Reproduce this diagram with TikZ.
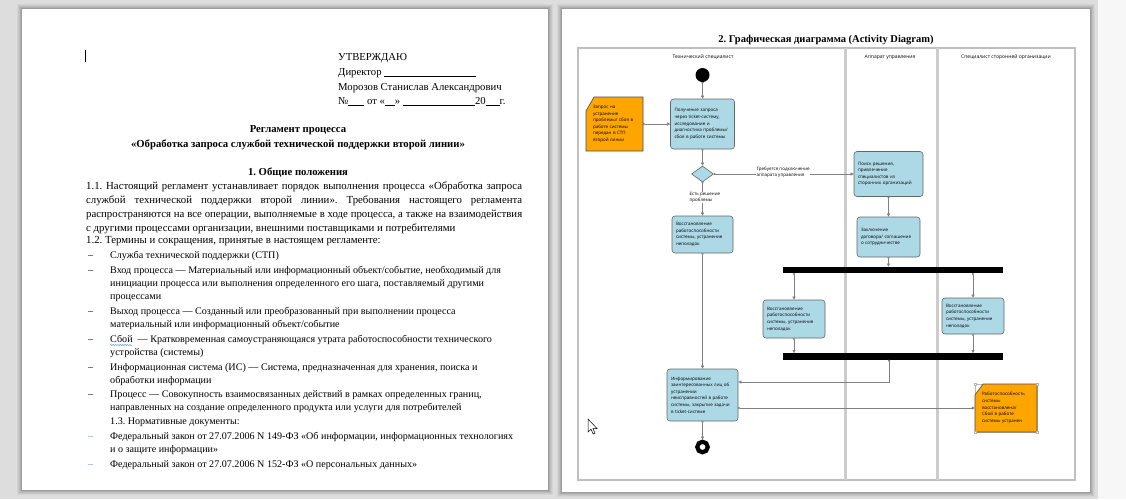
\documentclass[tikz,border=0pt]{standalone}
\usepackage{fontspec}
\setmainfont{Liberation Serif}
\newfontfamily\diagfont{Open Sans}
\usetikzlibrary{arrows.meta,shapes.geometric,decorations.pathmorphing}

\definecolor{deskgray}{RGB}{221,221,221}
\definecolor{actblue}{RGB}{173,216,230}
\definecolor{noteorange}{RGB}{255,165,0}
\definecolor{flowgray}{RGB}{128,128,128}
\definecolor{dashblue}{RGB}{91,155,213}

\newcommand{\justline}[1]{\makebox[436pt][s]{#1}}
\newcommand{\signline}[1]{\rule[-1.2pt]{#1pt}{0.5pt}}
\frenchspacing

\tikzset{
	body/.style={anchor=base west, inner sep=0pt, font=\fontsize{10.1}{12}\selectfont},
	bodywide/.style={anchor=base west, inner sep=0pt, font=\fontsize{10.8}{12}\selectfont},
	bodyhead/.style={anchor=base west, inner sep=0pt, font=\fontsize{10.7}{12}\selectfont},
	bodybold/.style={anchor=base, inner sep=0pt, font=\fontsize{10.7}{12}\selectfont\bfseries},
	lanehead/.style={inner sep=0pt, font=\diagfont\fontsize{5}{6}\selectfont},
	action/.style={draw=gray!80!black, line width=0.6pt, fill=actblue, rounded corners=3pt,
		align=left, inner xsep=4pt, inner ysep=0pt, font=\diagfont\fontsize{4.5}{6.6}\selectfont},
	notetext/.style={align=left, inner xsep=7pt, inner ysep=0pt, font=\diagfont\fontsize{4.5}{6.6}\selectfont},
	noteshape/.style={fill=noteorange, draw=gray!60!black, line width=0.6pt},
	decision/.style={diamond, draw=gray!80!black, line width=0.6pt, fill=actblue,
		minimum width=22pt, minimum height=16pt, inner sep=0pt},
	syncbar/.style={fill=black, inner sep=0pt, minimum width=220pt, minimum height=6.5pt},
	flow/.style={draw=flowgray, line width=0.5pt,
		{Triangle[reversed,width=2.4pt,length=2pt]}-{Triangle[width=3pt,length=3pt]}},
	flowlabel/.style={fill=white, inner sep=0.4pt, align=left, anchor=west,
		font=\diagfont\fontsize{4.5}{6.6}\selectfont}
}

\begin{document}
\frenchspacing
\begin{tikzpicture}[x=1pt,y=-1pt]
	\useasboundingbox (0,0) rectangle (1126,499);
	% desk and the two pages
	\fill[deskgray] (0,0) rectangle (1126,499);
	\fill[gray!6] (1098,0) rectangle (1126,499);
	\foreach \s/\o in {5/0.04,4/0.05,3/0.06,2/0.08,1/0.10}{
		\fill[black,opacity=\o] (22-\s,9-\s) rectangle (548+\s,490+\s);
		\fill[black,opacity=\o] (562-\s,9-\s) rectangle (1090+\s,492+\s);
	}
	\fill[white] (22,9) rectangle (548,490);
	\fill[white] (562,9) rectangle (1090,492);

	% left page
	\draw[line width=0.6pt] (85.5,50) -- (85.5,62);
	\node[bodyhead] (appr) at (338,60) {УТВЕРЖДАЮ};
	\node[bodyhead] (dir) at (338,75) {Директор \signline{92}};
	\node[bodyhead] (name) at (338,90) {Морозов Станислав Александрович};
	\node[bodyhead] (num) at (338,104) {№\signline{16} от «\signline{10}» \signline{72}20\signline{14}г.};
	\node[bodybold] (ttl1) at (298,132) {Регламент процесса};
	\node[bodybold] (ttl2) at (298,147) {«Обработка запроса службой технической поддержки второй линии»};
	\node[bodybold] (sec1) at (298,175) {1. Общие положения};
	\node[bodywide] (p11a) at (86,189) {\justline{1.1. Настоящий регламент устанавливает порядок выполнения процесса «Обработка запроса}};
	\node[bodywide] (p11b) at (86,203) {\justline{службой технической поддержки второй линии». Требования настоящего регламента}};
	\node[bodywide] (p11c) at (86,217) {\justline{распространяются на все операции, выполняемые в ходе процесса, а также на взаимодействия}};
	\node[bodywide] (p11d) at (86,231) {с другими процессами организации, внешними поставщиками и потребителями};
	\node[bodywide] (p12) at (86,243) {1.2. Термины и сокращения, принятые в настоящем регламенте:};
	\node[body] (d1) at (88,258) {–};
	\node[body] (t1) at (110,258) {Служба технической поддержки (СТП)};
	\node[body] (d2) at (88,273) {–};
	\node[body] (t2a) at (110,273) {Вход процесса — Материальный или информационный объект/событие, необходимый для};
	\node[body] (t2b) at (110,286) {инициации процесса или выполнения определенного его шага, поставляемый другими};
	\node[body] (t2c) at (110,299) {процессами};
	\node[body] (d3) at (88,314) {–};
	\node[body] (t3a) at (110,314) {Выход процесса — Созданный или преобразованный при выполнении процесса};
	\node[body] (t3b) at (110,327) {материальный или информационный объект/событие};
	\node[body] (d4) at (88,342) {–};
	\node[body] (t4a) at (110,342) {Сбой\ \ — Кратковременная самоустраняющаяся утрата работоспособности технического};
	\node[body] (t4b) at (110,355) {устройства (системы)};
	\draw[dashblue, line width=0.5pt, decorate, decoration={snake, amplitude=0.6pt, segment length=2.4pt}] (110,345) -- (132,345);
	\node[body] (d5) at (88,370) {–};
	\node[body] (t5a) at (110,370) {Информационная система (ИС) — Система, предназначенная для хранения, поиска и};
	\node[body] (t5b) at (110,383) {обработки информации};
	\node[body] (d6) at (88,397) {–};
	\node[body] (t6a) at (110,397) {Процесс — Совокупность взаимосвязанных действий в рамках определенных границ,};
	\node[body] (t6b) at (110,410) {направленных на создание определенного продукта или услуги для потребителей};
	\node[body] (p13) at (110,424) {1.3. Нормативные документы:};
	\node[body, text=dashblue] (d7) at (88,439) {–};
	\node[body] (t7a) at (110,439) {Федеральный закон от 27.07.2006 N 149-ФЗ «Об информации, информационных технологиях};
	\node[body] (t7b) at (110,452) {и о защите информации»};
	\node[body, text=dashblue] (d8) at (88,467) {–};
	\node[body] (t8) at (110,467) {Федеральный закон от 27.07.2006 N 152-ФЗ «О персональных данных»};

	% right page: swimlanes
	\node[font=\fontsize{10.5}{12}\selectfont\bfseries, inner sep=0pt] (dtitle) at (826,40) {2. Графическая диаграмма (Activity Diagram)};
	\draw[gray!50, line width=1.6pt] (578,48) rectangle (1075,480);
	\draw[gray!40, line width=3pt] (845,48) -- (845,480);
	\draw[gray!40, line width=3pt] (937,48) -- (937,480);
	\node[lanehead] (lane1) at (703,57) {Технический специалист};
	\node[lanehead] (lane2) at (890,57) {Аппарат управления};
	\node[lanehead] (lane3) at (1006,57) {Специалист сторонней организации};

	% nodes
	\node[circle, fill=black, minimum size=14pt, inner sep=0pt] (start) at (702.5,75) {};
	\node[action, text width=56pt, minimum height=50pt] (get) at (702.5,124)
		{Получение запроса\\через ticket-систему,\\исследование и\\диагностика проблемы/\\сбоя в работе системы};
	\filldraw[noteshape] (586,111) -- (594,97) -- (643,97) -- (643,151) -- (586,151) -- cycle;
	\node[notetext, text width=43pt, minimum height=54pt] (req) at (614.5,124)
		{Запрос на\\устранение\\проблемы/ сбоя в\\работе системы\\передан в СТП\\второй линии};
	\node[decision] (dec) at (702.5,174) {};
	\node[action, text width=53pt, minimum height=37pt] (fix1) at (702.5,234.5)
		{Восстановление\\работоспособности\\системы, устранение\\неполадок};
	\node[action, text width=63pt, minimum height=52pt] (inform) at (702.5,395)
		{Информирование\\заинтересованных лиц об\\устранении\\неисправностей в работе\\системы, закрытие задачи\\в ticket-системе};
	\node[circle, draw=black, line width=4.2pt, fill=white, minimum size=10.5pt, inner sep=0pt] (stop) at (702.5,447) {};
	\node[action, text width=61pt, minimum height=45pt] (search) at (888.5,174)
		{Поиск решения,\\привлечение\\специалистов из\\сторонних организаций};
	\node[action, text width=55pt, minimum height=40pt] (contract) at (888.5,237)
		{Заключение\\договора/ соглашение\\о сотрудничестве};
	\node[syncbar] (fork) at (893,270) {};
	\node[action, text width=54pt, minimum height=38pt] (fix2) at (794,319)
		{Восстановление\\работоспособности\\системы, устранение\\неполадок};
	\node[action, text width=54pt, minimum height=36pt] (fix3) at (973,316)
		{Восстановление\\работоспособности\\системы, устранение\\неполадок};
	\node[syncbar] (join) at (893,356.5) {};
	\draw[gray!55, line width=0.4pt] (975,384) rectangle (1037,432);
	\filldraw[noteshape] (975,395) -- (983,384) -- (1037,384) -- (1037,432) -- (975,432) -- cycle;
	\foreach \hx/\hy in {975/384,1037/384,975/432,1037/432}
		\filldraw[fill=white, draw=gray!60, line width=0.3pt] (\hx-1,\hy-1) rectangle (\hx+1,\hy+1);
	\node[notetext, text width=48pt, minimum height=48pt] (done) at (1006,408)
		{Работоспособность\\системы\\восстановлена/\\Сбой в работе\\системы устранен};
	\coordinate (j1) at (889,382);

	% connectors
	\draw[flow] (start) -- (get);
	\draw[flow] (req) -- (get);
	\draw[flow] (get) -- (dec);
	\draw[flow] (dec) -- (fix1);
	\draw[flow] (dec) -- (search);
	\draw[flow] (search) -- (contract);
	\draw[flow] (contract.south) -- (contract.south |- fork.north);
	\draw[flow] (fix2.north |- fork.south) -- (fix2.north);
	\draw[flow] (fix3.north |- fork.south) -- (fix3.north);
	\draw[flow] (fix2.south) -- (fix2.south |- join.north);
	\draw[flow] (fix3.south) -- (fix3.south |- join.north);
	\draw[flow] (j1 |- join.south) -- (j1) -- (j1 -| inform.east);
	\draw[flow] (fix1) -- (inform);
	\draw[flow] (inform.east |- done.west) -- (done.west);
	\draw[flow] (inform) -- (stop);
	\node[flowlabel] (yeslbl) at (689,197.5) {Есть решение\\проблемы};
	\node[flowlabel] (mgmtlbl) at (756,172.5) {Требуется подключение\\аппарата управления};

	% mouse pointer
	\filldraw[fill=white, draw=black, line width=0.5pt] (588,419) -- (588,432) -- (591,429.2) -- (593.2,434)
		-- (595,433.2) -- (592.9,428.5) -- (597,428.5) -- cycle;
\end{tikzpicture}
\end{document}
